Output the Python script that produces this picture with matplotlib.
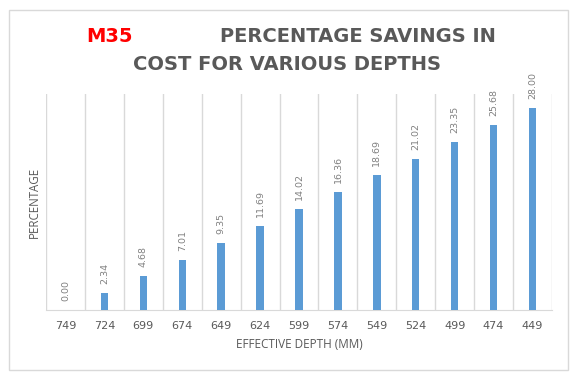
import matplotlib.pyplot as plt
from matplotlib.patches import Rectangle

depths = ['749', '724', '699', '674', '649', '624', '599', '574', '549', '524', '499', '474', '449']
savings = [0.00, 2.34, 4.68, 7.01, 9.35, 11.69, 14.02, 16.36, 18.69, 21.02, 23.35, 25.68, 28.00]

plt.rcParams['font.family'] = ['Open Sans', 'DejaVu Sans']

fig = plt.figure(figsize=(5.81, 3.86), dpi=100)
fig.patch.set_facecolor('white')
fig.patches.append(Rectangle((9 / 581, 16 / 386), 559 / 581, 360 / 386, transform=fig.transFigure,
                             fill=False, edgecolor='#D9D9D9', linewidth=1.0))

ax = fig.add_axes([46 / 581, 76 / 386, 506 / 581, 216 / 386])
x = list(range(len(depths)))
ax.bar(x, savings, width=0.19, color='#5B9BD5', zorder=3)
for xi, v in zip(x, savings):
    ax.annotate('%.2f' % v, (xi, v), xytext=(0, 6.5), textcoords='offset points',
                rotation=90, ha='center', va='bottom', fontsize=6.8, color='#808080',
                family='DejaVu Sans')

ax.set_xlim(-0.5, len(depths) - 0.5)
ax.set_ylim(0, 30)
ax.set_xticks(x)
ax.set_xticklabels(depths, fontsize=8, color='#595959', family='DejaVu Sans')
ax.set_xticks([i - 0.5 for i in range(len(depths) + 1)], minor=True)
ax.grid(axis='x', which='minor', color='#D9D9D9', linewidth=1.0, zorder=0)
ax.tick_params(axis='x', which='both', length=0, pad=8)
ax.set_yticks([])
for s in ['top', 'right', 'left']:
    ax.spines[s].set_visible(False)
ax.spines['bottom'].set_color('#D9D9D9')
ax.set_xlabel('EFFECTIVE DEPTH (MM)', fontsize=8.5, color='#595959', labelpad=5)
ax.set_ylabel('PERCENTAGE', fontsize=8.3, color='#595959', labelpad=4)

title_font = dict(family='DejaVu Sans', fontsize=14, fontweight='bold', ha='left', va='baseline')
fig.text(86 / 581, 1 - 42 / 386, 'M35', color='#FF0000', **title_font)
fig.text(220 / 581, 1 - 42 / 386, 'PERCENTAGE SAVINGS IN', color='#595959', **title_font)
fig.text(133 / 581, 1 - 70 / 386, 'COST FOR VARIOUS DEPTHS', color='#595959', **title_font)

plt.savefig('out.png', dpi=100)
